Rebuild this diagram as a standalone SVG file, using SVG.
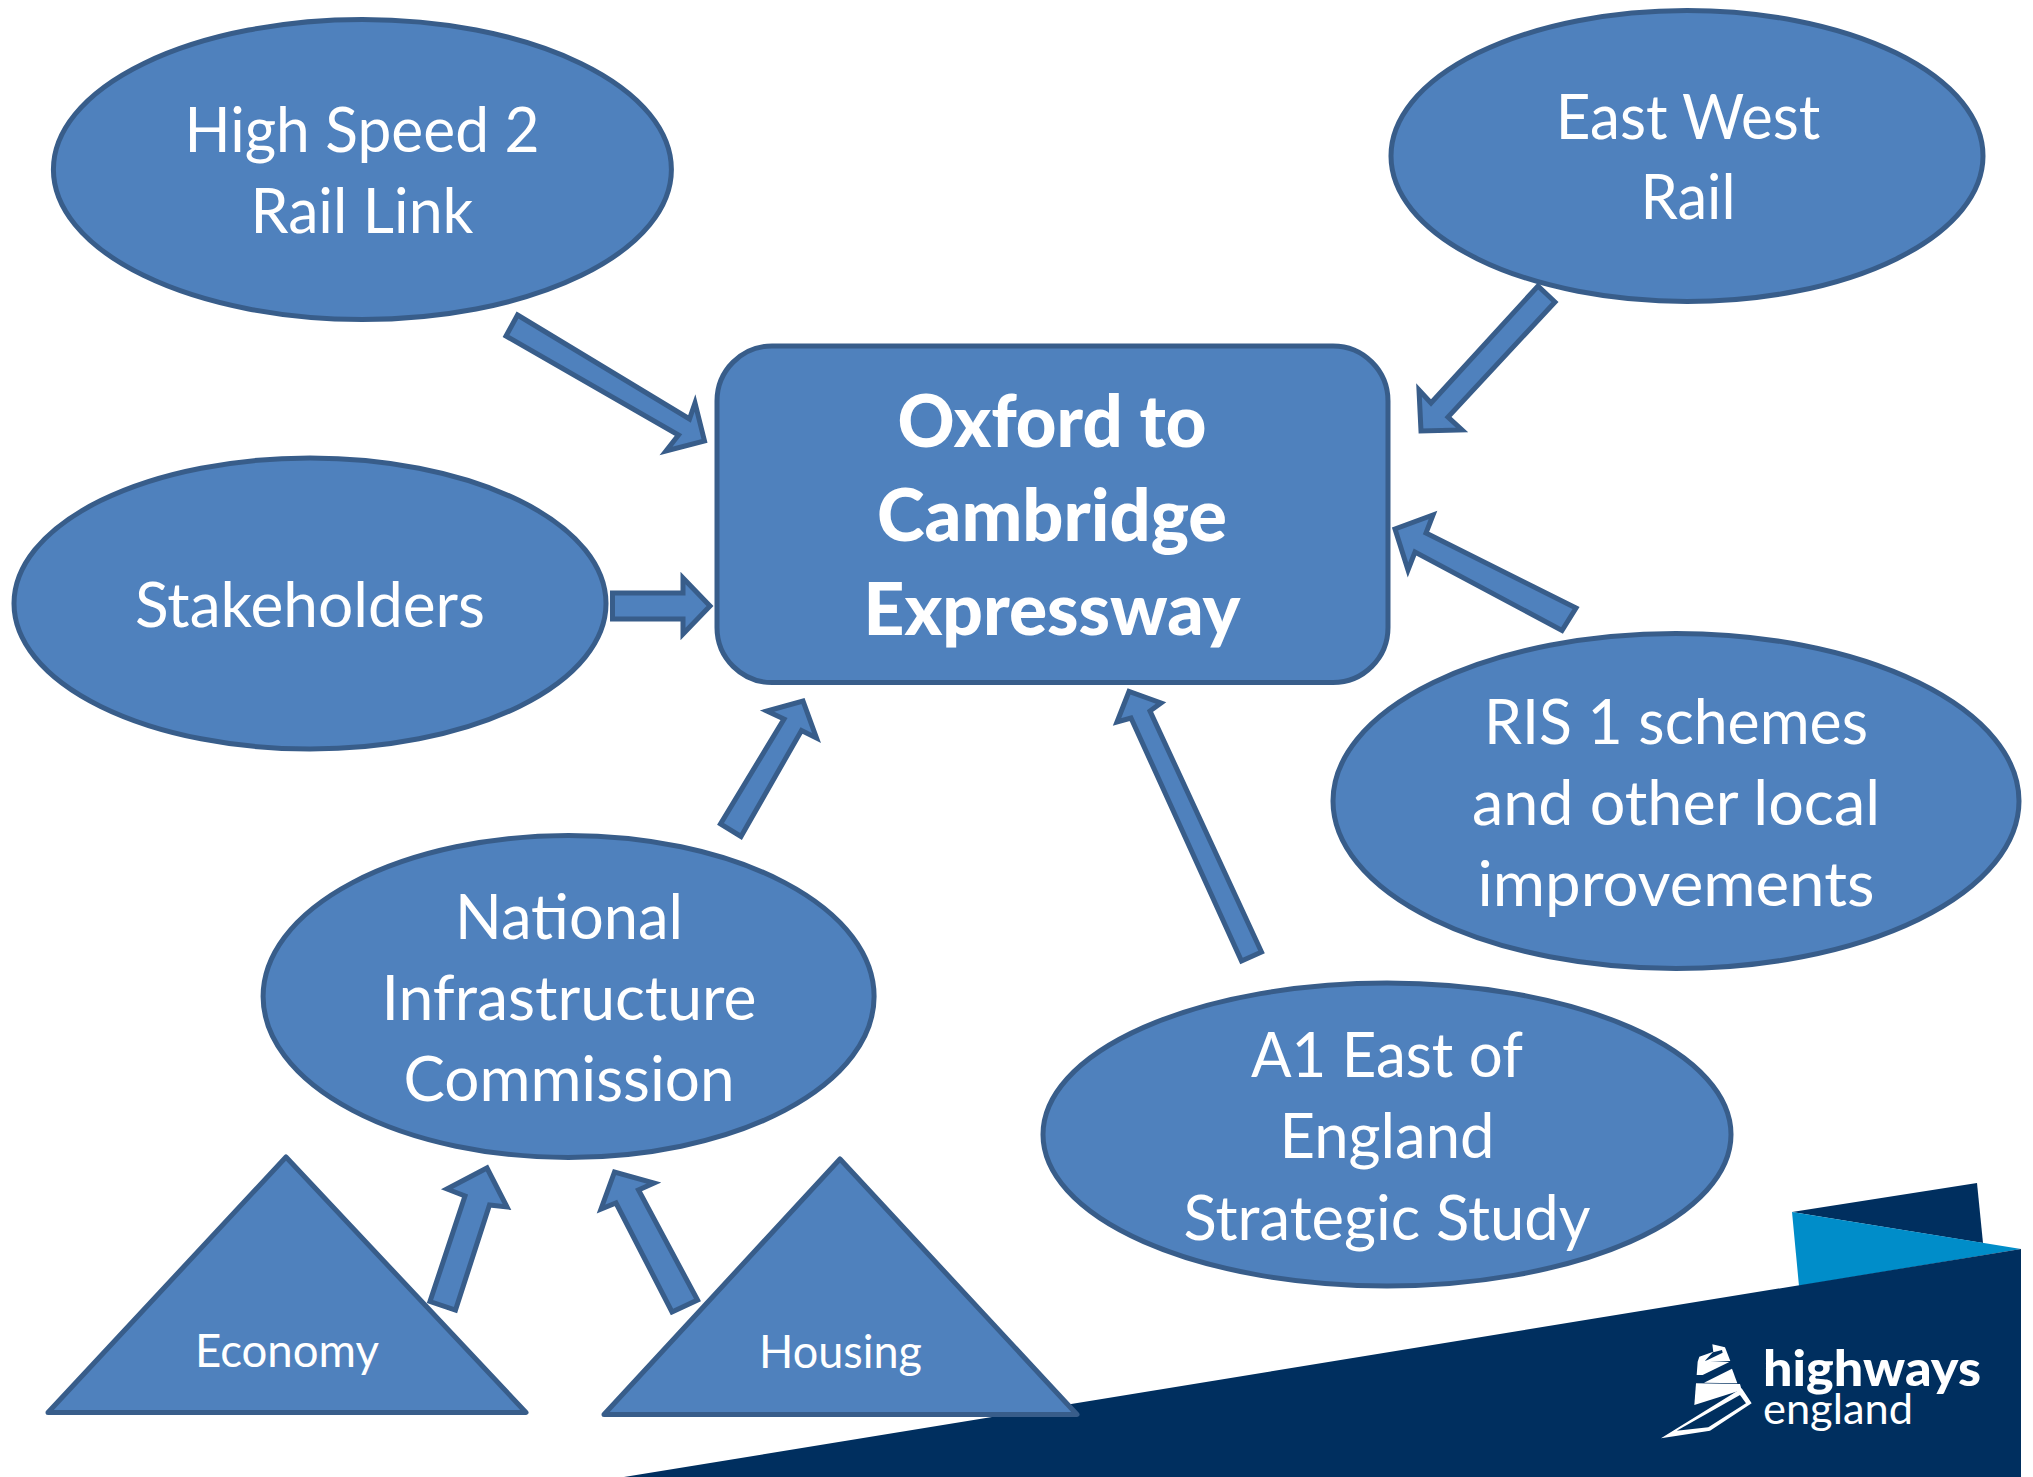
<svg xmlns="http://www.w3.org/2000/svg" width="2033" height="1477" viewBox="0 0 2033 1477">
<style>
.s{fill:#4F81BD;stroke:#385D8A;stroke-width:5;stroke-linejoin:miter;stroke-miterlimit:10}
.t{stroke-linejoin:round}
text{font-family:"Lato","Liberation Sans",sans-serif;fill:#fff;text-anchor:middle;font-size:62px}
.b{font-weight:900;font-size:72px}
.sm{font-size:46px}
.lg{text-anchor:start}
</style>
<rect width="2033" height="1477" fill="#fff"/>
<g id="banner">
<polygon points="1792,1212 1977,1183 1983,1243" fill="#002F5F"/>
<polygon points="1792,1212 2021,1249 1799,1286" fill="#008DC9"/>
<polygon points="624,1477 2021,1249 2021,1477" fill="#002F5F"/>
</g>
<g id="logo">
<g transform="translate(1660,1340) scale(.3333)" fill="#fff">
<polygon points="157,13 195,22 211,63 135,64 188,38 186,30 160,37"/>
<polygon points="118,50 160,35 135,62 208,66 128,105 110,105 113,65"/>
<polygon points="132,128 216,86 232,130"/>
<polygon points="108,130 240,132 245,150 103,195"/>
<path fill-rule="evenodd" d="M245,145 L275,190 L150,272 L3,295 Z M240,165 L50,272 L145,262 L258,190 Z"/>
</g>
<text class="lg"><tspan x="1763" y="1386" style="font-size:49px;font-weight:900" textLength="218" lengthAdjust="spacingAndGlyphs">highways</tspan><tspan x="1763" y="1424" style="font-size:42px;font-weight:400" textLength="150" lengthAdjust="spacingAndGlyphs">england</tspan></text>
</g>
<g id="connectors">
<polygon class="s" points="517.5,315 689.5,419 695,403 704.5,441 666,451 678.5,435 506,336"/>
<polygon class="s" points="612.5,593 683,593 683,578 710,606 683,634 683,619 612.5,619"/>
<polygon class="s" points="1555,302 1448,417 1462,430 1421,431 1419,390 1431,403 1538,286"/>
<polygon class="s" points="1576,608 1426,533 1433,515 1395,529 1408,570 1415,552 1562,630.5"/>
<polygon class="s" points="1261.5,952 1150,711 1161,703 1129,691.5 1117,722 1131,718 1241.5,961"/>
<polygon class="s" points="741,836.5 801.5,730.5 816.5,738 803,701 767,711 784,719 720.5,824"/>
<polygon class="s" points="455.5,1310 489.5,1205 507,1207 487,1168 447,1189 465,1196 430,1301.5"/>
<polygon class="s" points="697.5,1300 638.5,1190 654,1183 614.5,1172 601,1209 616,1203 672,1312"/>
</g>
<g id="high-speed-2"><ellipse class="s" cx="362.4" cy="169.5" rx="309" ry="150"/>
<text x="362" y="152" textLength="355" lengthAdjust="spacingAndGlyphs">High Speed 2</text>
<text x="362" y="233" textLength="223" lengthAdjust="spacingAndGlyphs">Rail Link</text></g>
<g id="east-west-rail"><ellipse class="s" cx="1687" cy="156" rx="296" ry="145.5"/>
<text x="1688" y="138.5" textLength="264.5" lengthAdjust="spacingAndGlyphs">East West</text>
<text x="1688" y="219" textLength="95" lengthAdjust="spacingAndGlyphs">Rail</text></g>
<g id="stakeholders"><ellipse class="s" cx="310" cy="603.5" rx="296" ry="145.5"/>
<text x="310" y="627" textLength="350" lengthAdjust="spacingAndGlyphs">Stakeholders</text></g>
<g id="ris-1"><ellipse class="s" cx="1676" cy="801" rx="343" ry="167.5"/>
<text x="1676" y="743.5" textLength="384" lengthAdjust="spacingAndGlyphs">RIS 1 schemes</text>
<text x="1676" y="824.5" textLength="408" lengthAdjust="spacingAndGlyphs">and other local</text>
<text x="1676" y="906" textLength="397" lengthAdjust="spacingAndGlyphs">improvements</text></g>
<g id="national-infrastructure-commission"><ellipse class="s" cx="568.6" cy="996.5" rx="305.5" ry="161"/>
<text x="569" y="938.5" textLength="228" lengthAdjust="spacingAndGlyphs">National</text>
<text x="569" y="1019.5" textLength="375" lengthAdjust="spacingAndGlyphs">Infrastructure</text>
<text x="569" y="1101" textLength="331" lengthAdjust="spacingAndGlyphs">Commission</text></g>
<g id="a1-east-of-england"><ellipse class="s" cx="1387" cy="1134.5" rx="344" ry="151.5"/>
<text x="1387" y="1077" textLength="272" lengthAdjust="spacingAndGlyphs">A1 East of</text>
<text x="1387" y="1158" textLength="215" lengthAdjust="spacingAndGlyphs">England</text>
<text x="1387" y="1239.5" textLength="407" lengthAdjust="spacingAndGlyphs">Strategic Study</text></g>
<g id="oxford-to-cambridge"><rect class="s" x="717" y="346" width="671" height="336.5" rx="55" ry="55"/>
<text class="b" x="1052" y="447" textLength="309" lengthAdjust="spacingAndGlyphs">Oxford to</text>
<text class="b" x="1052" y="541" textLength="350" lengthAdjust="spacingAndGlyphs">Cambridge</text>
<text class="b" x="1052" y="635" textLength="377" lengthAdjust="spacingAndGlyphs">Expressway</text></g>
<g id="economy"><polygon class="s t" points="286,1157 526,1412.5 48,1412.5"/>
<text class="sm" x="287" y="1366.5" textLength="184" lengthAdjust="spacingAndGlyphs">Economy</text></g>
<g id="housing"><polygon class="s t" points="840,1159 1077,1414.5 604,1414.5"/>
<text class="sm" x="840.5" y="1367.5" textLength="163" lengthAdjust="spacingAndGlyphs">Housing</text></g>
</svg>
